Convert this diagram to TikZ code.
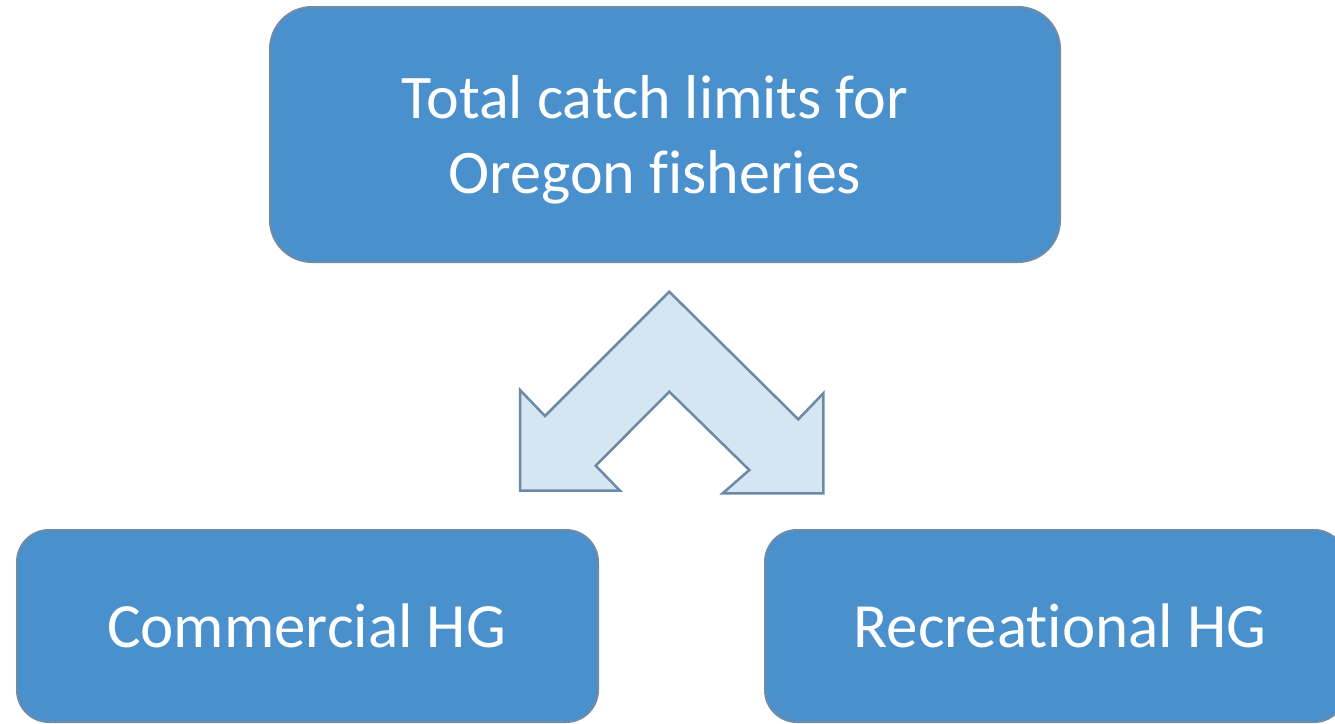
\documentclass[tikz,border=0pt]{standalone}
\usepackage{fontspec}
\setmainfont[Ligatures=NoCommon]{Carlito}
\definecolor{boxfill}{RGB}{74,144,205}
\definecolor{boxline}{RGB}{110,140,168}
\definecolor{arrowfill}{RGB}{213,229,242}
\definecolor{arrowline}{RGB}{108,138,168}
\tikzset{
  bluebox/.style={draw=boxline, line width=2pt, fill=boxfill, rounded corners=#1, inner sep=0pt},
  boxtext/.style={text=white, inner sep=0pt, align=center},
}
\begin{document}
\begin{tikzpicture}[x=1pt,y=-1pt]
\useasboundingbox (0,0) rectangle (1335,723);
\clip (0,0) rectangle (1335,723);
% top box
\node[bluebox=42pt, minimum width=790pt, minimum height=255pt] (topbox) at (665,134.5) {};
\node[boxtext, font=\fontsize{62}{75}\selectfont] (toptext) at (655,139.5) {Total catch limits for\\Oregon fisheries};
% bottom boxes
\node[bluebox=32pt, minimum width=581pt, minimum height=192pt] (leftbox) at (307.5,626) {};
\node[boxtext, font=\fontsize{63}{72}\selectfont, anchor=base] (lefttext) at (306.5,647) {Commercial HG};
\node[bluebox=32pt, minimum width=581pt, minimum height=192pt] (rightbox) at (1055.5,626) {};
\node[boxtext, font=\fontsize{63}{72}\selectfont, anchor=base] (righttext) at (1060,647) {Recreational HG};
% split arrow
\draw[draw=arrowline, fill=arrowfill, line width=2.5pt, line join=miter]
  (669.3,291.7) -- (798.3,419.3) -- (823.3,393.3) -- (823.3,493.3) -- (722.7,493.3)
  -- (749.3,470) -- (669.3,391.7) -- (595.7,465.7) -- (620,490.7) -- (520,490.7)
  -- (520,390) -- (545,416) -- cycle;
\end{tikzpicture}
\end{document}
